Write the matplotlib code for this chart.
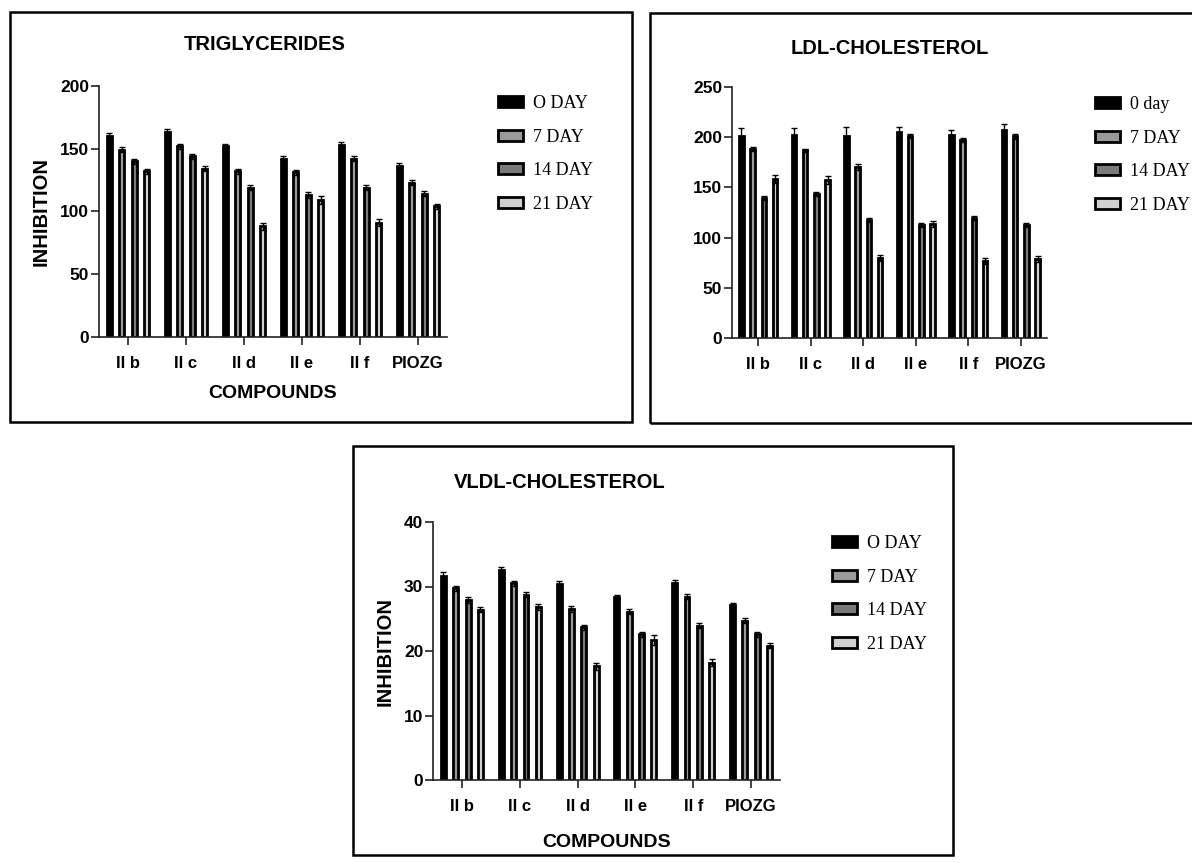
import matplotlib
matplotlib.use("Agg")
import matplotlib.pyplot as plt
from matplotlib.patches import Rectangle
import numpy as np

plt.rcParams['font.family'] = ['Liberation Sans', 'DejaVu Sans']

W, H = 1192, 863

compounds = ["II b", "II c", "II d", "II e", "II f", "PIOZG"]
days_upper = ["O DAY", "7 DAY", "14 DAY", "21 DAY"]
days_ldl = ["0 day", "7 DAY", "14 DAY", "21 DAY"]

# --- Triglycerides ---
tg_0 = [160, 163, 152, 142, 153, 136]
tg_7 = [149, 152, 132, 131, 142, 123]
tg_14 = [140, 144, 119, 113, 119, 114]
tg_21 = [132, 134, 88, 109, 91, 104]
tg_err_0 = [2.5, 2.5, 2, 2, 2.5, 2.5]
tg_err_7 = [2, 2, 2, 2, 2, 2]
tg_err_14 = [2, 2, 2, 2.5, 2, 2]
tg_err_21 = [2, 2, 3, 3.5, 2.5, 2]

# --- LDL-Cholesterol ---
ldl_0 = [201, 202, 201, 205, 202, 207]
ldl_7 = [188, 187, 170, 201, 197, 201]
ldl_14 = [139, 143, 118, 113, 120, 113]
ldl_21 = [158, 157, 80, 114, 77, 79]
ldl_err_0 = [8, 7, 9, 5, 5, 6]
ldl_err_7 = [2, 1.5, 3, 2, 2, 2.5]
ldl_err_14 = [2, 2, 2, 2, 2, 2]
ldl_err_21 = [4, 4, 3, 3, 3, 3]

# --- VLDL-Cholesterol ---
vl_0 = [31.7, 32.5, 30.4, 28.4, 30.6, 27.1]
vl_7 = [29.7, 30.5, 26.5, 26.1, 28.4, 24.7]
vl_14 = [27.9, 28.7, 23.7, 22.6, 23.9, 22.6]
vl_21 = [26.4, 26.8, 17.6, 21.7, 18.2, 20.8]
vl_err_0 = [0.6, 0.5, 0.4, 0.3, 0.4, 0.4]
vl_err_7 = [0.4, 0.4, 0.4, 0.4, 0.4, 0.4]
vl_err_14 = [0.4, 0.4, 0.4, 0.4, 0.4, 0.4]
vl_err_21 = [0.4, 0.5, 0.6, 0.8, 0.5, 0.4]

fills = ["black", "#9a9a9a", "#7a7a7a", "#d0d0d0"]
offsets = [-0.32, -0.107, 0.107, 0.32]

fig = plt.figure(figsize=(W / 100, H / 100), dpi=100)


def px_axes(x0, x1, ytop, ybot):
    return fig.add_axes([x0 / W, 1 - ybot / H, (x1 - x0) / W, (ybot - ytop) / H])


def box(x0, y0, x1, y1):
    fig.add_artist(Rectangle((x0 / W, 1 - y1 / H), (x1 - x0) / W, (y1 - y0) / H,
                             transform=fig.transFigure, fill=False, lw=1.8, ec="black"))


def panel(ax, series, errs, labels, ymax, ystep, title, title_xy, leg_xy, xlab_pad=None):
    x = np.arange(len(compounds))
    handles = []
    for i, (vals, err) in enumerate(zip(series, errs)):
        b = ax.bar(x + offsets[i], vals, width=0.084, color=fills[i],
                   edgecolor="black", linewidth=2.0, zorder=2)
        ax.errorbar(x + offsets[i], vals, yerr=err, fmt="none", ecolor="black",
                    elinewidth=1, capsize=2.2, capthick=1, zorder=3)
        handles.append(b)
    ax.set_xlim(-0.5, 5.5)
    ax.set_ylim(0, ymax)
    ax.set_yticks(np.arange(0, ymax + 1, ystep))
    ax.set_xticks(x)
    ax.set_xticklabels(compounds)
    for s in ["top", "right"]:
        ax.spines[s].set_visible(False)
    for s in ["left", "bottom"]:
        ax.spines[s].set_linewidth(1.2)
        ax.spines[s].set_color("#222222")
    ax.tick_params(axis="both", length=6, width=1.2, color="#222222")
    ax.tick_params(axis="y", pad=1)
    ax.tick_params(axis="x", pad=8)
    for t in ax.get_xticklabels():
        t.set_fontweight("bold")
        t.set_fontsize(12)
    for t in ax.get_yticklabels():
        t.set_fontweight("bold")
        t.set_fontsize(12.5)
    if xlab_pad is not None:
        ax.set_ylabel("INHIBITION", fontsize=14.5, fontweight="bold", labelpad=7)
        ax.set_xlabel("COMPOUNDS", fontsize=14, fontweight="bold", labelpad=xlab_pad)
    fig.text(title_xy[0] / W, 1 - title_xy[1] / H, title, ha="center", va="center",
             fontsize=14.5, fontweight="bold")
    ax.legend(handles, labels, loc="upper left",
              bbox_to_anchor=(leg_xy[0] / W, 1 - leg_xy[1] / H),
              bbox_transform=fig.transFigure, frameon=False,
              prop={"family": "Liberation Serif", "size": 13},
              handlelength=1.4, handleheight=0.55, handletextpad=0.55,
              labelspacing=0.92, borderpad=0, borderaxespad=0)


# panel boxes
box(10, 12, 632, 422)
box(650, 13, 1200, 423)
box(353, 446, 953, 855)

ax1 = px_axes(99, 447, 86, 336.7)
panel(ax1, [tg_0, tg_7, tg_14, tg_21], [tg_err_0, tg_err_7, tg_err_14, tg_err_21],
      days_upper, 200, 50, "TRIGLYCERIDES", (265, 45), (498, 95), xlab_pad=10)

ax2 = px_axes(732, 1047, 87.3, 337.7)
panel(ax2, [ldl_0, ldl_7, ldl_14, ldl_21], [ldl_err_0, ldl_err_7, ldl_err_14, ldl_err_21],
      days_ldl, 250, 50, "LDL-CHOLESTEROL", (890, 48), (1095, 96))

ax3 = px_axes(433, 780, 522, 780)
panel(ax3, [vl_0, vl_7, vl_14, vl_21], [vl_err_0, vl_err_7, vl_err_14, vl_err_21],
      days_upper, 40, 10, "VLDL-CHOLESTEROL", (560, 483), (832, 535), xlab_pad=14)

fig.savefig("out.png", dpi=100)
